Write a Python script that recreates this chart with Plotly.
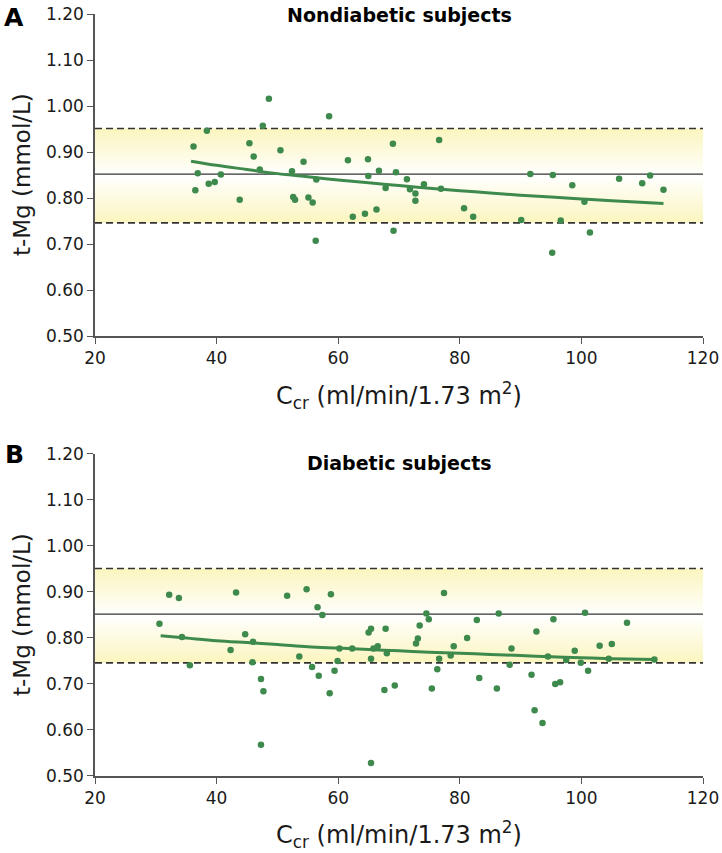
import plotly.graph_objects as go

# ---------------- data ----------------
# Panel A: Nondiabetic subjects
nd_ccr = [36.2, 36.5, 36.9, 38.4, 38.7, 39.7, 40.7, 43.8, 45.4, 46.1, 47.1, 47.6, 48.6, 50.5,
          52.4, 52.6, 52.9, 54.3, 55.1, 55.8, 56.3, 56.4, 58.5, 61.6, 62.4, 64.4, 64.9, 64.95,
          66.3, 66.7, 67.8, 69.0, 69.1, 69.5, 71.3, 71.8, 72.7, 72.7, 74.1, 76.6, 76.9, 80.7,
          82.2, 90.1, 91.6, 95.2, 95.3, 96.6, 98.5, 100.5, 101.4, 106.2, 110.0, 111.3, 113.5]
nd_mg = [0.912, 0.817, 0.854, 0.946, 0.831, 0.835, 0.851, 0.796, 0.919, 0.890, 0.862, 0.957, 1.016, 0.904,
         0.858, 0.802, 0.796, 0.879, 0.801, 0.790, 0.707, 0.840, 0.978, 0.882, 0.759, 0.766, 0.884, 0.848,
         0.775, 0.859, 0.822, 0.918, 0.729, 0.856, 0.841, 0.819, 0.810, 0.794, 0.830, 0.926, 0.820, 0.778,
         0.759, 0.752, 0.852, 0.681, 0.850, 0.751, 0.828, 0.792, 0.725, 0.842, 0.832, 0.849, 0.818]
nd_trend_x = [35.8, 40, 45, 50, 55, 60, 65, 70, 75, 80, 85, 90, 95, 100, 105, 113.5]
nd_trend_y = [0.880, 0.871, 0.862, 0.853, 0.846, 0.839, 0.833, 0.827, 0.821, 0.816, 0.811, 0.806, 0.802, 0.798, 0.794, 0.788]

# Panel B: Diabetic subjects
d_ccr = [30.6, 32.2, 33.8, 34.3, 35.6, 42.3, 43.2, 44.7, 46.0, 45.9, 47.3, 47.7, 47.3, 51.6,
         53.6, 54.8, 55.7, 56.6, 56.8, 57.4, 58.6, 58.8, 59.4, 59.9, 60.2, 62.3, 65.0, 65.4,
         65.4, 65.4, 65.8, 66.5, 67.6, 67.8, 68.0, 69.3, 72.8, 73.1, 73.4, 74.5, 74.9, 75.4,
         76.3, 76.6, 77.4, 78.5, 79.0, 81.2, 82.8, 83.2, 86.1, 86.4, 88.2, 88.5, 91.8, 92.3,
         92.6, 93.6, 94.5, 95.4, 95.7, 96.5, 97.5, 98.9, 99.9, 100.6, 101.1, 103.0, 104.5, 105.0,
         107.5, 112.0]
d_mg = [0.831, 0.894, 0.887, 0.802, 0.741, 0.774, 0.899, 0.808, 0.792, 0.747, 0.711, 0.684, 0.568, 0.892,
        0.760, 0.906, 0.737, 0.867, 0.718, 0.850, 0.680, 0.895, 0.729, 0.750, 0.777, 0.777, 0.812, 0.820,
        0.755, 0.528, 0.777, 0.782, 0.687, 0.820, 0.767, 0.697, 0.788, 0.799, 0.827, 0.853, 0.841, 0.690,
        0.732, 0.755, 0.898, 0.762, 0.782, 0.800, 0.839, 0.713, 0.690, 0.853, 0.742, 0.777, 0.720, 0.643,
        0.814, 0.615, 0.760, 0.841, 0.700, 0.704, 0.752, 0.772, 0.746, 0.855, 0.729, 0.783, 0.755, 0.787,
        0.833, 0.753]
d_trend_x = [30.8, 35, 40, 45, 50, 55, 60, 65, 70, 75, 80, 85, 90, 95, 100, 105, 112.0]
d_trend_y = [0.805, 0.800, 0.794, 0.790, 0.786, 0.781, 0.778, 0.775, 0.772, 0.769, 0.767, 0.764, 0.762, 0.759, 0.757, 0.755, 0.753]

# Reference range (mean and limits)
ref_mean = 0.852
ref_low = 0.746
ref_high = 0.951
x_range = [20, 120]
x_ticks = [20, 40, 60, 80, 100, 120]
y_ticks = [0.50, 0.60, 0.70, 0.80, 0.90, 1.00, 1.10, 1.20]

# ---------------- styling ----------------
GREEN = "#3E8A4D"
FONT = "DejaVu Sans, Liberation Sans, Arial, sans-serif"
BAND_YELLOW = "#FBF5BE"

fig = go.Figure()

panels = [
    ("x", "y", nd_ccr, nd_mg, nd_trend_x, nd_trend_y),
    ("x2", "y2", d_ccr, d_mg, d_trend_x, d_trend_y),
]

for xa, ya, cx, cy, tx, ty in panels:
    # shaded reference band with vertical gradient (yellow edges, white centre)
    fig.add_trace(go.Scatter(
        x=[x_range[0], x_range[1], x_range[1], x_range[0], x_range[0]],
        y=[ref_low, ref_low, ref_high, ref_high, ref_low],
        xaxis=xa, yaxis=ya, mode="lines", line=dict(width=0),
        fill="toself",
        fillgradient=dict(type="vertical",
                          colorscale=[[0, BAND_YELLOW], [0.5, "#FFFFFF"], [1, BAND_YELLOW]],
                          start=ref_low, stop=ref_high),
        hoverinfo="skip", showlegend=False))
    # dashed limits
    for lv in (ref_low, ref_high):
        fig.add_trace(go.Scatter(
            x=x_range, y=[lv, lv], xaxis=xa, yaxis=ya, mode="lines",
            line=dict(color="#333333", width=1.6, dash="7px,4px"),
            hoverinfo="skip", showlegend=False))
    # mean line
    fig.add_trace(go.Scatter(
        x=x_range, y=[ref_mean, ref_mean], xaxis=xa, yaxis=ya, mode="lines",
        line=dict(color="#333333", width=1.2),
        hoverinfo="skip", showlegend=False))
    # scatter points
    fig.add_trace(go.Scatter(
        x=cx, y=cy, xaxis=xa, yaxis=ya, mode="markers",
        marker=dict(color=GREEN, size=6.5, line=dict(width=0)),
        showlegend=False))
    # trend curve
    fig.add_trace(go.Scatter(
        x=tx, y=ty, xaxis=xa, yaxis=ya, mode="lines",
        line=dict(color=GREEN, width=3, shape="spline"),
        hoverinfo="skip", showlegend=False))

axis_common = dict(
    showgrid=False, zeroline=False, showline=True, linecolor="#555555", linewidth=1.5,
    ticks="outside", ticklen=6, tickwidth=1.2, tickcolor="#555555", automargin=False,
    tickfont=dict(family=FONT, size=17, color="#1a1a1a"),
)

top_dom = [0.5774, 1.0]
bot_dom = [0.0, 0.4226]

fig.update_layout(
    width=722, height=853,
    margin=dict(l=95, r=19, t=14, b=77),
    paper_bgcolor="white", plot_bgcolor="white",
    font=dict(family=FONT, color="#1a1a1a"),
    xaxis=dict(axis_common, range=x_range, tickvals=x_ticks, domain=[0, 1], anchor="y"),
    yaxis=dict(axis_common, range=[0.5, 1.2], tickvals=y_ticks, tickformat=".2f",
               domain=top_dom, anchor="x"),
    xaxis2=dict(axis_common, range=x_range, tickvals=x_ticks, domain=[0, 1], anchor="y2"),
    yaxis2=dict(axis_common, range=[0.5, 1.2], tickvals=y_ticks, tickformat=".2f",
                domain=bot_dom, anchor="x2"),
    showlegend=False,
)

xtitle = "C<sub>cr</sub> (ml/min/1.73 m<sup>2</sup>)"
ytitle = "t-Mg (mmol/L)"
ann = []
# panel letters
for letter, yy in (("A", 0.996), ("B", 0.4213)):
    ann.append(dict(text="<b>%s</b>" % letter, x=-0.133, y=yy, xref="paper", yref="paper",
                    showarrow=False, font=dict(size=25, family=FONT, color="black"),
                    xanchor="center", yanchor="middle"))
# panel titles
ann.append(dict(text="<b>Nondiabetic subjects</b>", x=0.5, y=0.9987, xref="paper", yref="paper",
                showarrow=False, font=dict(size=19, family=FONT, color="black"),
                xanchor="center", yanchor="middle"))
ann.append(dict(text="<b>Diabetic subjects</b>", x=0.5, y=0.4108, xref="paper", yref="paper",
                showarrow=False, font=dict(size=19, family=FONT, color="black"),
                xanchor="center", yanchor="middle"))
# x titles
for yy in (0.4987, -0.0774):
    ann.append(dict(text=xtitle, x=0.5, y=yy, xref="paper", yref="paper",
                    showarrow=False, font=dict(size=24, family=FONT, color="#1a1a1a"),
                    xanchor="center", yanchor="middle"))
# y titles
for yy in (0.7887, 0.2113):
    ann.append(dict(text=ytitle, x=-0.120, y=yy, xref="paper", yref="paper", textangle=-90,
                    showarrow=False, font=dict(size=23, family=FONT, color="#1a1a1a"),
                    xanchor="center", yanchor="middle"))
fig.update_layout(annotations=ann)

# remove the default page body margin so the figure sits at the window's top-left
fig.write_html("out.html",
               config={"displayModeBar": False},
               post_script="document.body.style.margin='0';document.body.style.overflow='hidden';")
